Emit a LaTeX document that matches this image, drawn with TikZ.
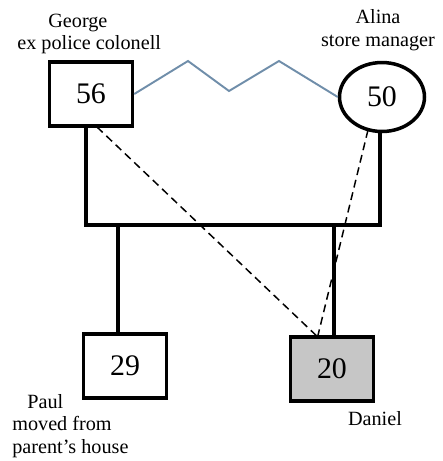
\documentclass[tikz,border=0pt]{standalone}
\usepackage{fontspec}
\setmainfont{Liberation Serif}
\definecolor{zigblue}{RGB}{112,142,170}
\definecolor{indexgray}{RGB}{198,198,198}
\usetikzlibrary{positioning,shapes.geometric}

\begin{document}
\begin{tikzpicture}[x=0.02cm, y=-0.02cm,
  person/.style={draw, line width=2pt, minimum width=1.66cm, minimum height=1.28cm, font=\fontsize{17}{20}\selectfont},
  female/.style={person, ellipse, minimum width=1.7cm, minimum height=1.38cm},
  caption/.style={font=\fontsize{11.5}{13}\selectfont, align=center, inner sep=0pt},
  famline/.style={line width=2pt},
  closeline/.style={line width=0.85pt, dash pattern=on 4.5pt off 2.8pt},
  zigline/.style={draw=zigblue, line width=1.1pt}]
  \useasboundingbox (0,0) rectangle (443,461);

  % parents
  \node[person] (george) at (91,94) {56};
  \node[female] (alina) at (382,97) {50};
  \node[caption, align=left, anchor=west] (georgelbl) at (17,34) {\hspace{0.62cm}George\\ex police colonell};
  \node[caption] (alinalbl) at (378,30) {Alina\\store manager};

  % conflict between the parents
  \draw[zigline] (george.east) -- (188,61) -- (229,91) -- (279,61) -- (alina.west);

  % children
  \node[person] (paul) at (125,366) {29};
  \node[person, fill=indexgray] (daniel) at (332,369) {20};
  \node[caption, align=left, anchor=west] (paullbl) at (12,426) {\hspace{0.3cm}Paul\\moved from\\parent's house};
  \node[caption] (daniellbl) at (375,419) {Daniel};

  % marriage and descent
  \coordinate (gdown) at (86,225);
  \coordinate (adown) at (380,225);
  \draw[famline] (george.south -| gdown) -- (gdown) -- (adown) -- (alina.south -| adown);
  \draw[famline] (paul.north -| 118,225) -- (118,225);
  \draw[famline] (daniel.north -| 334,225) -- (334,225);

  % close relations to Daniel
  \coordinate (gdash) at (97,127);
  \coordinate (adash) at (368,130);
  \draw[closeline] (gdash) -- (daniel.north -| 316,0);
  \draw[closeline] (adash) -- (daniel.north -| 318,0);
\end{tikzpicture}
\end{document}
